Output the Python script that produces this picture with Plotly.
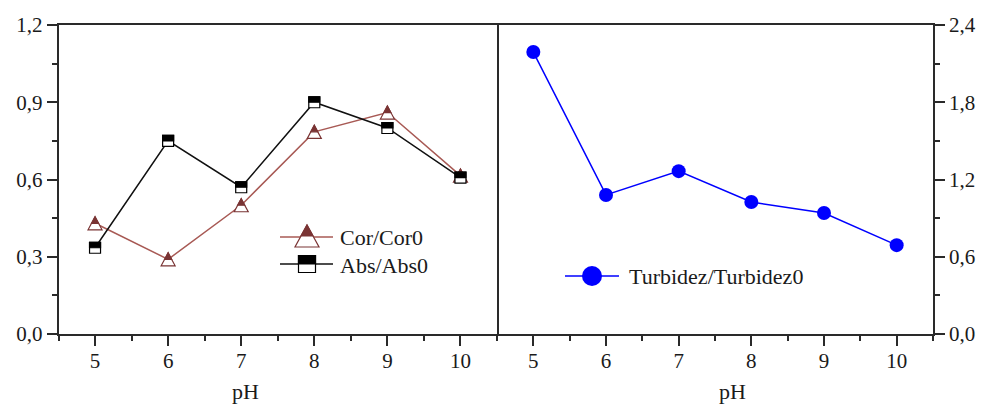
import plotly.graph_objects as go

# ---- data ----
ph = [5, 6, 7, 8, 9, 10]
cor = [0.43, 0.29, 0.50, 0.785, 0.86, 0.615]
abs_ratio = [0.335, 0.75, 0.57, 0.90, 0.80, 0.607]
turbidez = [2.19, 1.08, 1.265, 1.025, 0.94, 0.69]
left_yticks = [0.0, 0.3, 0.6, 0.9, 1.2]
right_yticks = [0.0, 0.6, 1.2, 1.8, 2.4]
xticks = [5, 6, 7, 8, 9, 10]

W, H = 983, 405
TOP, BOT = 25, 334
PH_ = BOT - TOP
FONT = "Liberation Serif, Times New Roman, serif"
TXT = "#1a1a1a"
AX = "#2a2a2a"
BROWN = "#7a3434"
BROWN_L = "#a85a55"
BLUE = "#0000ff"

def px(x):
    return x / W

def py(y):
    return (BOT - y) / PH_

fig = go.Figure()
fig.add_trace(go.Scatter(x=ph, y=cor, mode="lines", line=dict(color=BROWN_L, width=1.5),
                         xaxis="x", yaxis="y", showlegend=False))
fig.add_trace(go.Scatter(x=ph, y=abs_ratio, mode="lines", line=dict(color="#111111", width=1.5),
                         xaxis="x", yaxis="y", showlegend=False))
fig.add_trace(go.Scatter(x=ph, y=turbidez, mode="lines+markers", line=dict(color=BLUE, width=1.5),
                         marker=dict(color=BLUE, size=14, line=dict(width=0)),
                         xaxis="x2", yaxis="y2", showlegend=False))

shapes = []

def tri(x, y, xref, yref, color, w=7.0, h=6.5):
    base = dict(type="path", xref=xref, yref=yref, xsizemode="pixel", ysizemode="pixel",
                xanchor=x, yanchor=y, layer="above")
    shapes.append(dict(base, path=f"M0,{h} L{w},{-h} L{-w},{-h} Z", fillcolor="white",
                       line=dict(color=color, width=1.2)))
    shapes.append(dict(base, path=f"M0,{h} L{w/2},0 L{-w/2},0 Z", fillcolor=color,
                       line=dict(color=color, width=1.2)))

def sq(x, y, xref, yref, color, a=5.5):
    base = dict(type="path", xref=xref, yref=yref, xsizemode="pixel", ysizemode="pixel",
                xanchor=x, yanchor=y, layer="above")
    shapes.append(dict(base, path=f"M{-a},{-a} L{a},{-a} L{a},{a} L{-a},{a} Z", fillcolor="white",
                       line=dict(color=color, width=1.2)))
    shapes.append(dict(base, path=f"M{-a},0 L{a},0 L{a},{a} L{-a},{a} Z", fillcolor=color,
                       line=dict(color=color, width=1.2)))

for xv, yv in zip(ph, cor):
    tri(xv, yv, "x", "y", BROWN)
for xv, yv in zip(ph, abs_ratio):
    sq(xv, yv, "x", "y", "#000000")

# ---- manual legends ----
shapes.append(dict(type="line", xref="paper", yref="paper", x0=px(280), x1=px(333),
                   y0=py(237), y1=py(237), line=dict(color=BROWN_L, width=1.5)))
tri(px(307), py(236), "paper", "paper", BROWN, w=12, h=11)
shapes.append(dict(type="line", xref="paper", yref="paper", x0=px(280), x1=px(333),
                   y0=py(264), y1=py(264), line=dict(color="#111111", width=1.5)))
sq(px(307), py(264), "paper", "paper", "#000000", a=8.5)
shapes.append(dict(type="line", xref="paper", yref="paper", x0=px(565), x1=px(619),
                   y0=py(276), y1=py(276), line=dict(color=BLUE, width=1.5)))
shapes.append(dict(type="circle", xref="paper", yref="paper", xsizemode="pixel", ysizemode="pixel",
                   xanchor=px(592), yanchor=py(276), x0=-10, x1=10, y0=-10, y1=10,
                   fillcolor=BLUE, line=dict(color=BLUE, width=0)))

annotations = [
    dict(text="Cor/Cor0", x=px(338), y=py(237), xref="paper", yref="paper", xanchor="left",
         yanchor="middle", showarrow=False, font=dict(family=FONT, size=22, color=TXT)),
    dict(text="Abs/Abs0", x=px(338), y=py(265), xref="paper", yref="paper", xanchor="left",
         yanchor="middle", showarrow=False, font=dict(family=FONT, size=22, color=TXT)),
    dict(text="Turbidez/Turbidez0", x=px(627), y=py(276), xref="paper", yref="paper", xanchor="left",
         yanchor="middle", showarrow=False, font=dict(family=FONT, size=22, color=TXT)),
    dict(text="pH", x=px(245), y=py(391), xref="paper", yref="paper", xanchor="center",
         yanchor="middle", showarrow=False, font=dict(family=FONT, size=22, color=TXT)),
    dict(text="pH", x=px(732), y=py(391), xref="paper", yref="paper", xanchor="center",
         yanchor="middle", showarrow=False, font=dict(family=FONT, size=22, color=TXT)),
]

xcommon = dict(range=[4.5, 10.5], tickmode="array", tickvals=xticks, ticktext=[str(t) for t in xticks],
               ticks="outside", ticklen=10, tickwidth=1.5, tickcolor=AX,
               showline=True, linecolor=AX, linewidth=1.5, mirror=True,
               showgrid=False, zeroline=False, ticklabelstandoff=-3,
               minor=dict(dtick=0.5, tick0=4.5, ticks="outside", ticklen=5, tickwidth=1.5, tickcolor=AX,
                          showgrid=False),
               tickfont=dict(family=FONT, size=21, color=TXT))

fig.update_layout(
    width=W, height=H,
    margin=dict(l=0, r=0, t=TOP, b=H - BOT),
    paper_bgcolor="white", plot_bgcolor="white",
    separators=",.",
    showlegend=False,
    xaxis=dict(xcommon, domain=[58.5 / W, 497 / W], anchor="y"),
    xaxis2=dict(xcommon, domain=[497 / W, 933 / W], anchor="y2"),
    yaxis=dict(range=[0, 1.2], tickmode="array", tickvals=left_yticks,
               ticktext=[f"{v:.1f}".replace(".", ",") for v in left_yticks],
               ticks="outside", ticklen=10, tickwidth=1.5, tickcolor=AX,
               showline=True, linecolor=AX, linewidth=1.5, mirror=True,
               showgrid=False, zeroline=False, anchor="x",
               minor=dict(dtick=0.15, tick0=0, ticks="outside", ticklen=5, tickwidth=1.5,
                          tickcolor=AX, showgrid=False),
               tickfont=dict(family=FONT, size=21, color=TXT)),
    yaxis2=dict(range=[0, 2.4], tickmode="array", tickvals=right_yticks,
                ticktext=[f"{v:.1f}".replace(".", ",") for v in right_yticks],
                side="right", ticks="outside", ticklen=10, tickwidth=1.5, tickcolor=AX,
                showline=True, linecolor=AX, linewidth=1.5, mirror=False,
                showgrid=False, zeroline=False, anchor="x2",
                minor=dict(dtick=0.3, tick0=0, ticks="outside", ticklen=5, tickwidth=1.5,
                           tickcolor=AX, showgrid=False),
                tickfont=dict(family=FONT, size=21, color=TXT)),
    shapes=shapes,
    annotations=annotations,
)

fig.write_html("out.html")
